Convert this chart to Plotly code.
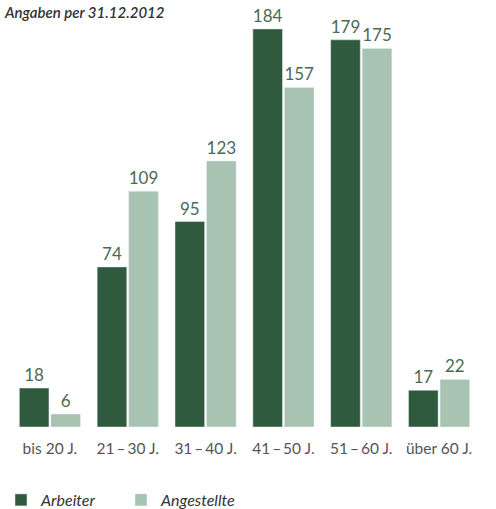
import plotly.graph_objects as go

categories = ["bis 20 J.", "21\u2009–\u200930 J.", "31\u2009–\u200940 J.", "41\u2009–\u200950 J.", "51\u2009–\u200960 J.", "über 60 J."]
arbeiter = [18, 74, 95, 184, 179, 17]
angestellte = [6, 109, 123, 157, 175, 22]

dark = "#2f5a3d"
light = "#a9c3b3"
font_family = "Lato"

W, H = 496, 509

fig = go.Figure()
fig.add_trace(go.Bar(name="Arbeiter", x=categories, y=arbeiter, marker_color=dark,
                     text=arbeiter, textposition="outside",
                     textfont=dict(color="#4a6a54", size=17, family=font_family),
                     cliponaxis=False))
fig.add_trace(go.Bar(name="Angestellte", x=categories, y=angestellte, marker_color=light,
                     text=angestellte, textposition="outside",
                     textfont=dict(color="#4a6a54", size=17, family=font_family),
                     cliponaxis=False))

fig.update_layout(
    width=W, height=H,
    margin=dict(l=11, r=18, t=16, b=82),
    paper_bgcolor="white", plot_bgcolor="white",
    barmode="group", bargap=0.19, bargroupgap=0.06,
    font=dict(family=font_family, color="#555555"),
    title=dict(text="Angaben per 31.12.2012", x=0.01, xanchor="left", y=0.985, yanchor="top",
               font=dict(size=15, style="italic", weight=600, color="#333333", family=font_family)),
    xaxis=dict(showgrid=False, showline=False, ticks="", ticklabelstandoff=10, automargin=False,
               tickfont=dict(size=15.5, color="#555555")),
    yaxis=dict(range=[0, 190], visible=False, automargin=False),
    legend=dict(orientation="h", xref="container", yref="container",
                x=1 / W, xanchor="left", y=(H - 500) / H, yanchor="middle",
                font=dict(size=16, style="italic", color="#333333", family=font_family),
                itemwidth=30, entrywidth=75, entrywidthmode="pixels", traceorder="normal"),
)

fig.write_html("out.html")
